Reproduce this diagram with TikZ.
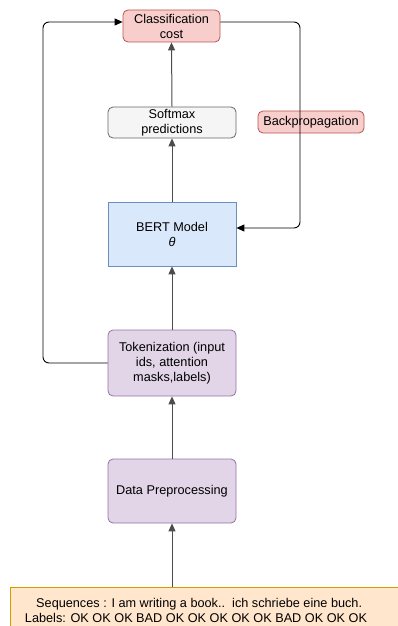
\documentclass[tikz,border=0pt]{standalone}
\usepackage{fontspec}
\setmainfont{Liberation Sans}
\usetikzlibrary{arrows.meta,calc}
\definecolor{redfill}{HTML}{F8CECC}
\definecolor{reddraw}{HTML}{B85450}
\definecolor{grayfill}{HTML}{F5F5F5}
\definecolor{graydraw}{HTML}{666666}
\definecolor{bluefill}{HTML}{DAE8FC}
\definecolor{bluedraw}{HTML}{6C8EBF}
\definecolor{purpfill}{HTML}{E1D5E7}
\definecolor{purpdraw}{HTML}{9673A6}
\definecolor{orgfill}{HTML}{FFE6CC}
\definecolor{orgdraw}{HTML}{D79B00}
\begin{document}
\begin{tikzpicture}[x=1pt,y=-1pt,
  every node/.style={font=\fontsize{12.7}{15}\selectfont, align=center, inner sep=0pt},
  box/.style={draw, line width=0.8pt, rounded corners=5pt},
  redbox/.style={box, fill=redfill, draw=reddraw},
  graybox/.style={box, fill=grayfill, draw=graydraw},
  bluebox/.style={draw, line width=0.8pt, fill=bluefill, draw=bluedraw},
  purpbox/.style={box, fill=purpfill, draw=purpdraw},
  flow/.style={draw=black!70, line width=1pt, -{Triangle[length=8pt,width=7pt]}},
  loop/.style={draw=black, line width=0.9pt, rounded corners=6pt, -{Triangle[length=8pt,width=7pt]}}
]
\useasboundingbox (0,0) rectangle (398,626);
\node[redbox, minimum width=97pt, minimum height=32pt] (cls) at (171.5,26) {Classification\\cost};
\node[graybox, minimum width=128pt, minimum height=31pt] (soft) at (172,122.5) {Softmax\\predictions};
\node[redbox, minimum width=106pt, minimum height=22pt] (back) at (311,122) {Backpropagation};
\node[bluebox, minimum width=128pt, minimum height=64pt] (bert) at (172,234) {BERT Model\\\textit{θ}};
\node[purpbox, minimum width=128pt, minimum height=66pt] (tok) at (172,363) {Tokenization (input\\ids, attention\\masks,labels)};
\node[purpbox, minimum width=128pt, minimum height=64pt] (dp) at (172,491) {Data Preprocessing};
\begin{scope}
\clip (0,0) rectangle (398,626);
\draw[fill=orgfill, draw=orgdraw, line width=0.8pt] (10,587) rectangle (402,632);
\end{scope}
\node (seq) at (196,610) {\phantom{x}Sequences : I am writing a book..\ \ ich schriebe eine buch.\\Labels: OK OK OK BAD OK OK OK OK OK BAD OK OK OK};
\coordinate (seqtop) at (172,587);
\coordinate (ly) at (0,22);
\coordinate (ry) at (0,228);
\coordinate (lx) at (43,0);
\coordinate (rx) at (300,0);
\draw[flow] (seqtop) -- (dp.south);
\draw[flow] (dp.north) -- (tok.south);
\draw[flow] (tok.north) -- (bert.south);
\draw[flow] (bert.north) -- (soft.south);
\draw[flow] (soft.north) -- (cls.south);
\draw[loop] (tok.west) -- (lx |- tok.west) -- (lx |- ly) -- (cls.west |- ly);
\draw[loop] (cls.east |- ly) -- (rx |- ly) -- (rx |- ry) -- (bert.east |- ry);
\end{tikzpicture}
\end{document}
